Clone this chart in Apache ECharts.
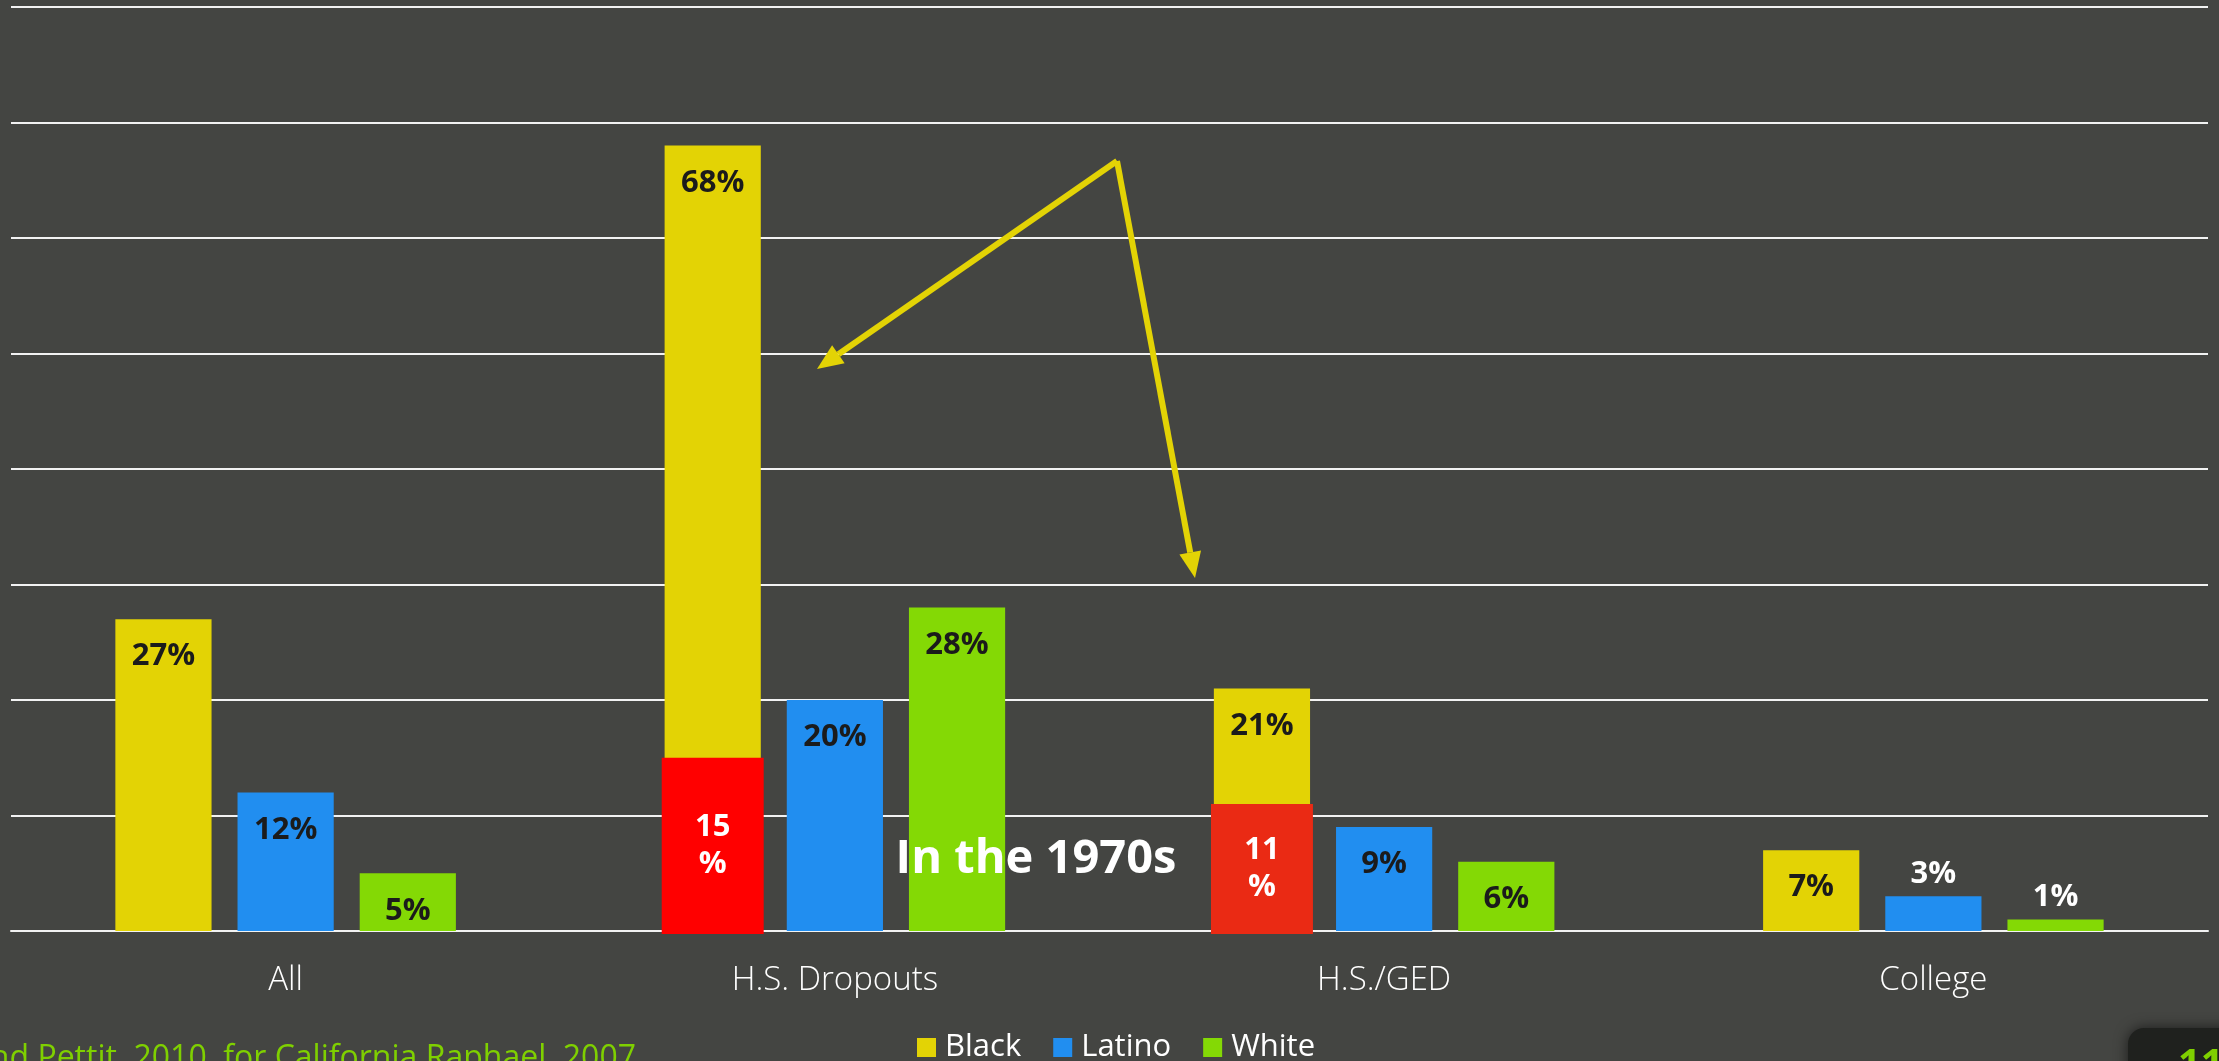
<!DOCTYPE html>
<html>
<head>
<meta charset="utf-8">
<title>Incarceration by education</title>
<script src="https://cdn.jsdelivr.net/npm/echarts@6/dist/echarts.min.js"></script>
<style>
  html, body { margin: 0; padding: 0; background: #444542; }
  #chart { width: 2219px; height: 1061px; }
</style>
</head>
<body>
<div id="chart"></div>
<script>
// Cumulative risk of imprisonment by education, percent
const categories = ['All', 'H.S. Dropouts', 'H.S./GED', 'College'];
const black = [27, 68, 21, 7];
const latino = [12, 20, 9, 3];
const white = [5, 28, 6, 1];
// Black men, same measure in the 1970s
const black1970s = [null, 15, 11, null];
const yTicks = [0, 10, 20, 30, 40, 50, 60, 70, 80];

const palette = { black: '#e3d305', latino: '#218ef0', white: '#84d905' };
const redFills = ['#ff0000', '#ff0000', '#ea2a14', '#ea2a14'];
const labelDark = '#1b1b1b';
const FONT = '"Open Sans", "Noto Sans", sans-serif';

const CAT_GAP = '38%';
const BAR_GAP = '27%';

function barLabel(values) {
  // small bars carry their value above in white, the rest inside in dark
  return values.map(v => ({
    value: v,
    label: v < 4
      ? { position: 'top', color: '#ffffff', distance: 7 }
      : { position: 'insideTop', color: labelDark, distance: 22 }
  }));
}

const chart = echarts.init(document.getElementById('chart'));

const valueLabel = { show: true, formatter: '{c}%', fontSize: 31, fontWeight: 'bold', fontFamily: FONT };

const option = {
  backgroundColor: '#444542',
  animation: false,
  grid: { left: 11, right: 11, top: 7, bottom: 130, containLabel: false },
  legend: {
    data: ['Black', 'Latino', 'White'],
    left: 912, top: 1027,
    icon: 'rect', itemWidth: 19, itemHeight: 19, itemGap: 32,
    textStyle: { color: '#ffffff', fontSize: 31, fontFamily: FONT, padding: [0, 0, 0, 4] }
  },
  xAxis: {
    type: 'category',
    data: categories,
    axisTick: { show: false },
    axisLine: { show: true, lineStyle: { color: '#f2f2f2', width: 2 } },
    axisLabel: { color: '#ffffff', fontSize: 33, fontFamily: FONT, fontWeight: 300, margin: 33 }
  },
  yAxis: {
    type: 'value',
    min: yTicks[0], max: yTicks[yTicks.length - 1], interval: 10,
    axisLabel: { show: false },
    axisLine: { show: false },
    axisTick: { show: false },
    splitLine: { show: true, lineStyle: { color: '#f2f2f2', width: 2 } }
  },
  series: [
    {
      name: 'Black', type: 'bar', data: barLabel(black),
      barCategoryGap: CAT_GAP, barGap: BAR_GAP,
      itemStyle: { color: palette.black },
      label: valueLabel
    },
    {
      name: 'Latino', type: 'bar', data: barLabel(latino),
      barCategoryGap: CAT_GAP, barGap: BAR_GAP,
      itemStyle: { color: palette.latino },
      label: valueLabel
    },
    {
      name: 'White', type: 'bar', data: barLabel(white),
      barCategoryGap: CAT_GAP, barGap: BAR_GAP,
      itemStyle: { color: palette.white },
      label: valueLabel
    },
    {
      // 1970s level drawn over the Black bar of each group
      name: '1970s', type: 'custom', z: 5,
      data: black1970s.map((v, i) => [i, v]),
      renderItem: function (params, api) {
        const v = api.value(1);
        if (v == null || isNaN(v)) return null;
        const i = api.value(0);
        const layout = api.barLayout({ count: 3, barCategoryGap: CAT_GAP, barGap: BAR_GAP });
        const slot = layout[0];
        const base = api.coord([i, 0]);
        const top = api.coord([i, v]);
        const w = slot.width * 1.06;
        const cx = base[0] + slot.offsetCenter;
        return {
          type: 'rect',
          shape: { x: cx - w / 2, y: top[1], width: w, height: base[1] - top[1] + 3 },
          style: { fill: redFills[i] },
          textContent: {
            style: {
              text: v + '\n%', fill: '#ffffff', fontSize: 31, fontWeight: 'bold',
              fontFamily: FONT, align: 'center', lineHeight: 37
            }
          },
          textConfig: { position: 'inside' }
        };
      }
    }
  ]
};

chart.setOption(option);

// Annotations: arrows, caption, source line and slide number
function arrow(from, to, color) {
  const dx = to[0] - from[0], dy = to[1] - from[1];
  const len = Math.hypot(dx, dy);
  const ux = dx / len, uy = dy / len;
  const headL = 26, headW = 11;
  const bx = to[0] - ux * headL, by = to[1] - uy * headL;
  return [
    { type: 'line', shape: { x1: from[0], y1: from[1], x2: bx, y2: by },
      style: { stroke: color, lineWidth: 6 }, z: 20 },
    { type: 'polygon', shape: { points: [
        [to[0], to[1]],
        [bx - uy * headW, by + ux * headW],
        [bx + uy * headW, by - ux * headW]
      ] }, style: { fill: color }, z: 20 }
  ];
}

const arrowColor = '#e3d305';
const origin = [1117, 161];

chart.setOption({
  graphic: [
    ...arrow(origin, [817, 369], arrowColor),
    ...arrow(origin, [1195, 578], arrowColor),
    {
      type: 'text', x: 1036, y: 860, z: 30,
      style: { text: 'In the 1970s', fill: '#ffffff', fontSize: 47, fontWeight: 'bold', fontFamily: FONT,
               align: 'center', verticalAlign: 'middle' }
    },
    {
      type: 'text', x: 636, y: 1059, z: 30,
      style: { text: 'and Pettit, 2010, for California Raphael, 2007', fill: '#7fd000',
               fontSize: 32, fontFamily: FONT, align: 'right', verticalAlign: 'middle' }
    },
    {
      type: 'rect', x: 2128, y: 1028, z: 30,
      shape: { width: 140, height: 80, r: 16 },
      style: { fill: '#1f211e', shadowBlur: 14, shadowColor: 'rgba(0,0,0,0.6)' }
    },
    {
      type: 'text', x: 2178, y: 1046, z: 31,
      style: { text: '11', fill: '#7fd000', fontSize: 40, fontWeight: 'bold', fontFamily: FONT }
    }
  ]
});
</script>
</body>
</html>
